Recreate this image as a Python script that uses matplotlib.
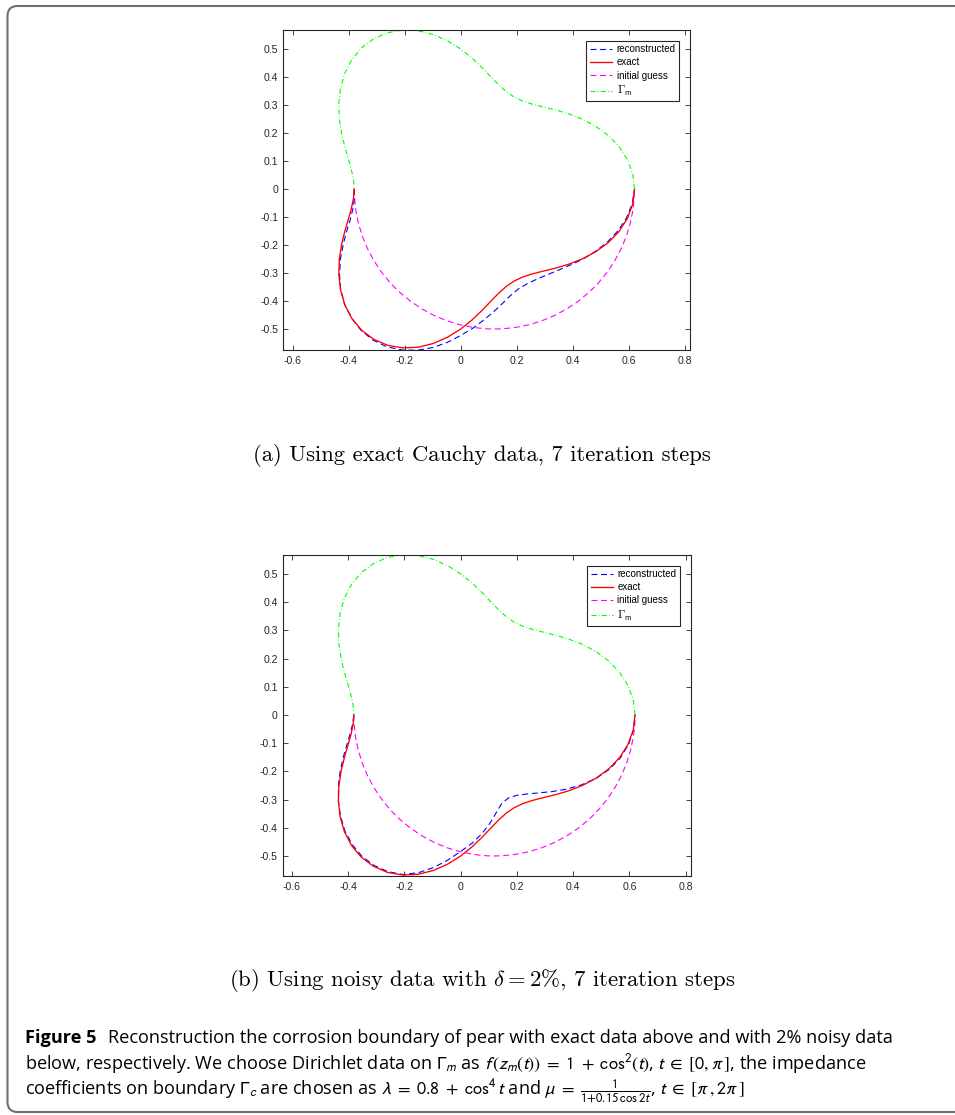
import numpy as np
import matplotlib
matplotlib.use("Agg")
import matplotlib.pyplot as plt
from matplotlib.patches import Arc, FancyBboxPatch
from matplotlib.lines import Line2D
from matplotlib.font_manager import FontProperties
from matplotlib.transforms import IdentityTransform

plt.rcParams['font.family'] = 'Liberation Sans'
plt.rcParams['axes.unicode_minus'] = False
plt.rcParams['lines.scale_dashes'] = False

# =========================================================
# DATA (polar radius about the origin)
# =========================================================
theta_up = np.arange(0, 185, 5)     # deg, measured boundary Gamma_m
theta_lo = np.arange(180, 365, 5)   # deg, corroded part Gamma_c

r_gamma_m = [0.620, 0.616, 0.604, 0.585, 0.560, 0.531, 0.500, 0.469, 0.440,
             0.415, 0.396, 0.384, 0.380, 0.384, 0.396, 0.415, 0.440, 0.469,
             0.500, 0.531, 0.560, 0.585, 0.604, 0.616, 0.620, 0.616, 0.604,
             0.585, 0.560, 0.531, 0.500, 0.469, 0.440, 0.415, 0.396, 0.384,
             0.380]

r_exact = [0.380, 0.384, 0.396, 0.415, 0.440, 0.469, 0.500, 0.531, 0.560,
           0.585, 0.604, 0.616, 0.620, 0.616, 0.604, 0.585, 0.560, 0.531,
           0.500, 0.469, 0.440, 0.415, 0.396, 0.384, 0.380, 0.384, 0.396,
           0.415, 0.440, 0.469, 0.500, 0.531, 0.560, 0.585, 0.604, 0.616,
           0.620]

# (a) exact Cauchy data
r_rec_a = [0.380, 0.381, 0.390, 0.407, 0.432, 0.462, 0.495, 0.528, 0.559,
           0.585, 0.604, 0.618, 0.624, 0.622, 0.612, 0.596, 0.575, 0.550,
           0.523, 0.499, 0.475, 0.454, 0.435, 0.420, 0.412, 0.413, 0.421,
           0.434, 0.452, 0.475, 0.502, 0.529, 0.556, 0.580, 0.600, 0.614,
           0.620]

# (b) noisy data, delta = 2%
r_rec_b = [0.380, 0.386, 0.400, 0.420, 0.445, 0.473, 0.502, 0.531, 0.558,
           0.582, 0.600, 0.612, 0.616, 0.613, 0.602, 0.579, 0.549, 0.516,
           0.484, 0.457, 0.429, 0.399, 0.369, 0.346, 0.340, 0.348, 0.366,
           0.391, 0.423, 0.459, 0.496, 0.532, 0.563, 0.588, 0.606, 0.617,
           0.620]

guess_center = (0.12, 0.0)
guess_radius = 0.5

xticks = [-0.6, -0.4, -0.2, 0, 0.2, 0.4, 0.6, 0.8]
yticks = [-0.5, -0.4, -0.3, -0.2, -0.1, 0, 0.1, 0.2, 0.3, 0.4, 0.5]

labels = ['reconstructed', 'exact', 'initial guess', r'$\Gamma_{\mathsf{m}}$']

sub_a = '(a) Using exact Cauchy data, 7 iteration steps'
sub_b = r'(b) Using noisy data with $\delta = 2\%$, 7 iteration steps'

cap_1 = ('Reconstruction the corrosion boundary of pear with exact data '
         'above and with 2% noisy data')
cap_2 = (r'below, respectively. We choose Dirichlet data on $\mathit{\Gamma}_m$'
         r' as $f\,(z_m(t))\;=\;1\;+\;\mathrm{cos}^2(t)$, $t\;\in\;[0,\pi\,]$,'
         ' the impedance')
cap_3 = (r'coefficients on boundary $\mathit{\Gamma}_c$ are chosen as '
         r'$\lambda\;=\;0.8\;+\;\mathrm{cos}^4\, t$ and '
         r'$\mu\;=\;\frac{1}{1{+}0.15\,\mathrm{cos}\,2t}$, '
         r'$t\;\in\;[\pi\,, 2\pi\,]$')


def polar_xy(theta, r):
    t = np.deg2rad(theta)
    r = np.asarray(r)
    return r * np.cos(t), r * np.sin(t)


def fmt(v, pos):
    return '%g' % (round(v, 2) + 0.0)


# =========================================================
# PANEL
# =========================================================
def draw_panel(ax, r_rec, xlim, ylim):
    dash = (0, (4.3, 2.6))
    dashdot = (0, (3.6, 1.6, 0.6, 1.6))

    x, y = polar_xy(theta_lo, r_rec)
    h_rec, = ax.plot(x, y, color='b', lw=0.8, linestyle=dash)
    x, y = polar_xy(theta_lo, r_exact)
    h_ex, = ax.plot(x, y, color='r', lw=0.95)
    arc = Arc(guess_center, 2 * guess_radius, 2 * guess_radius,
              theta1=180, theta2=360, color='#ff00ff', lw=0.8, linestyle=dash)
    ax.add_patch(arc)
    x, y = polar_xy(theta_up, r_gamma_m)
    h_gm, = ax.plot(x, y, color='#00ff00', lw=0.8, linestyle=dashdot)

    h_guess = Line2D([], [], color='#ff00ff', lw=0.8, linestyle=dash)

    ax.set_xlim(*xlim)
    ax.set_ylim(*ylim)
    ax.set_xticks(xticks)
    ax.set_yticks(yticks)
    ax.xaxis.set_major_formatter(plt.FuncFormatter(fmt))
    ax.yaxis.set_major_formatter(plt.FuncFormatter(fmt))
    ax.tick_params(direction='in', top=True, right=True, length=3.5,
                   width=0.6, color='#262626', labelsize=7.6,
                   labelcolor='#262626')
    ax.tick_params(axis='x', pad=4.5)
    ax.tick_params(axis='y', pad=3.5)
    for s in ax.spines.values():
        s.set_linewidth(0.8)
        s.set_color('#262626')

    prop = FontProperties(family='Liberation Sans', size=7,
                          math_fontfamily='cm')
    leg = ax.legend([h_rec, h_ex, h_guess, h_gm], labels, prop=prop,
                    loc='upper right', bbox_to_anchor=(0.973, 0.966),
                    borderaxespad=0, fancybox=False, framealpha=1,
                    edgecolor='#262626', handlelength=2.3,
                    handletextpad=0.45, labelspacing=0.33, borderpad=0.35)
    leg.get_frame().set_linewidth(0.8)
    leg.get_texts()[3].set_fontsize(8.5)


W, H = 955, 1115
fig = plt.figure(figsize=(W / 100, H / 100), dpi=100)

ax_a = fig.add_axes([283.3 / W, 1 - 350 / H, 406.7 / W, 320 / H])
draw_panel(ax_a, r_rec_a, (-0.633, 0.818), (-0.575, 0.568))

ax_b = fig.add_axes([282.7 / W, 1 - 875.7 / H, 408 / W, 321 / H])
draw_panel(ax_b, r_rec_b, (-0.633, 0.818), (-0.570, 0.568))

# sub captions (LaTeX style)
fig.text(482 / W, 1 - 456 / H, sub_a, family='cmr10', size=16.3,
         ha='center', va='center', math_fontfamily='cm')
fig.text(482 / W, 1 - 981 / H, sub_b, family='cmr10', size=16.4,
         ha='center', va='center', math_fontfamily='cm')

# figure caption
cap_font = 'Open Sans'
cap_size = 13.1
fig.text(25 / W, 1 - 1043 / H, 'Figure 5', family=cap_font, weight='bold',
         size=cap_size, va='baseline')
fig.text(108 / W, 1 - 1043 / H, cap_1, family=cap_font, size=cap_size,
         va='baseline')
fig.text(25 / W, 1 - 1069 / H, cap_2, family=cap_font, size=cap_size,
         va='baseline', math_fontfamily='stixsans')
fig.text(25 / W, 1 - 1095 / H, cap_3, family=cap_font, size=cap_size,
         va='baseline', math_fontfamily='stixsans')

# rounded outer frame
frame = FancyBboxPatch((7.5, 3), 990, 1106,
                       boxstyle='round,pad=0,rounding_size=10',
                       transform=IdentityTransform(), fill=False,
                       edgecolor='#707070', lw=1.5)
fig.add_artist(frame)

fig.savefig('out.png', dpi=100)
